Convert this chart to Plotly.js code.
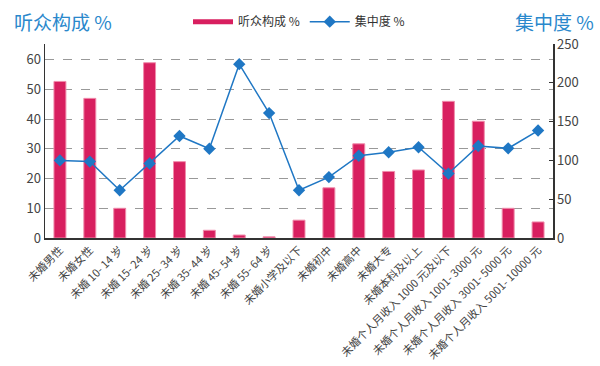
<!DOCTYPE html>
<html><head><meta charset="utf-8">
<script src="https://cdn.plot.ly/plotly-3.0.1.min.js"></script>
<style>body{margin:0;background:#fff}#chart{width:600px;height:366px}</style>
</head><body><div id="chart"></div>
<script>
var categories = ["未婚男性","未婚女性","未婚 10- 14 岁","未婚 15- 24 岁","未婚 25- 34 岁","未婚 35- 44 岁","未婚 45- 54 岁","未婚 55- 64 岁","未婚小学及以下","未婚初中","未婚高中","未婚大专","未婚本科及以上","未婚个人月收入 1000 元及以下","未婚个人月收入 1001- 3000 元","未婚个人月收入 3001- 5000 元","未婚个人月收入 5001- 10000 元"];
var composition = [52.7, 47.0, 10.0, 59.0, 25.7, 2.6, 1.0, 0.4, 6.0, 16.9, 31.7, 22.4, 22.9, 46.0, 39.3, 10.0, 5.4];
var concentration = [100, 98.5, 61.5, 96, 131.5, 115, 224, 161, 61.5, 78.5, 106, 110.5, 117, 83, 118.5, 115.5, 138.5];
var xIdx = categories.map(function(c,i){return i;});

var font = "Noto Sans CJK SC, DejaVu Sans, sans-serif";
var pink = "#d81f5f", blue = "#1f77c4";
var traces = [
  {type:"bar", x:xIdx, y:composition, name:"听众构成 %", yaxis:"y", showlegend:false,
   marker:{color:pink, line:{color:"#f08cab", width:1}}, width:0.4},
  {type:"scatter", mode:"lines", x:[null], y:[null], name:"听众构成 %", yaxis:"y",
   line:{color:pink, width:5}, hoverinfo:"skip"},
  {type:"scatter", mode:"lines+markers", x:xIdx, y:concentration, name:"集中度 %", yaxis:"y2",
   line:{color:blue, width:1.5}, marker:{symbol:"diamond", size:9.5, color:blue}}
];
var layout = {
  width:600, height:366,
  margin:{l:45, r:47, t:44, b:128, autoexpand:false},
  paper_bgcolor:"#fff", plot_bgcolor:"#fff",
  font:{family:font, color:"#444", size:12},
  showlegend:true,
  legend:{orientation:"h", x:0.5, xanchor:"center", y:1.115, yanchor:"middle", font:{size:12, color:"#333"}, traceorder:"normal", itemwidth:40},
  bargap:0.6,
  xaxis:{range:[-0.5,16.5], tickmode:"array", tickvals:xIdx, ticktext:categories, tickangle:-45,
    tickfont:{size:11, color:"#444"}, showline:true, linecolor:"#333", linewidth:1.5, showgrid:false,
    ticks:"", zeroline:false},
  yaxis:{range:[0,65.3], dtick:10, showline:true, linecolor:"#333", linewidth:1.5,
    showgrid:true, gridcolor:"#999", griddash:"dash", gridwidth:1, zeroline:false,
    tickfont:{size:13, color:"#444"}, ticks:""},
  yaxis2:{range:[0,250], dtick:50, overlaying:"y", side:"right", showline:true, linecolor:"#333", linewidth:1.5,
    showgrid:false, zeroline:false, tickfont:{size:13, color:"#444"}, ticks:"inside", ticklen:4, tickcolor:"#333"},
  annotations:[
    {text:"听众构成 %", xref:"paper", yref:"paper", x:-0.065, xanchor:"left", y:1.115, yanchor:"middle", showarrow:false,
     font:{size:19, color:"#2a88cc", family:font}},
    {text:"集中度 %", xref:"paper", yref:"paper", x:1.085, xanchor:"right", y:1.115, yanchor:"middle", showarrow:false,
     font:{size:19, color:"#2a88cc", family:font}}
  ]
};
Plotly.newPlot("chart", traces, layout, {displayModeBar:false, staticPlot:true});
</script></body></html>
